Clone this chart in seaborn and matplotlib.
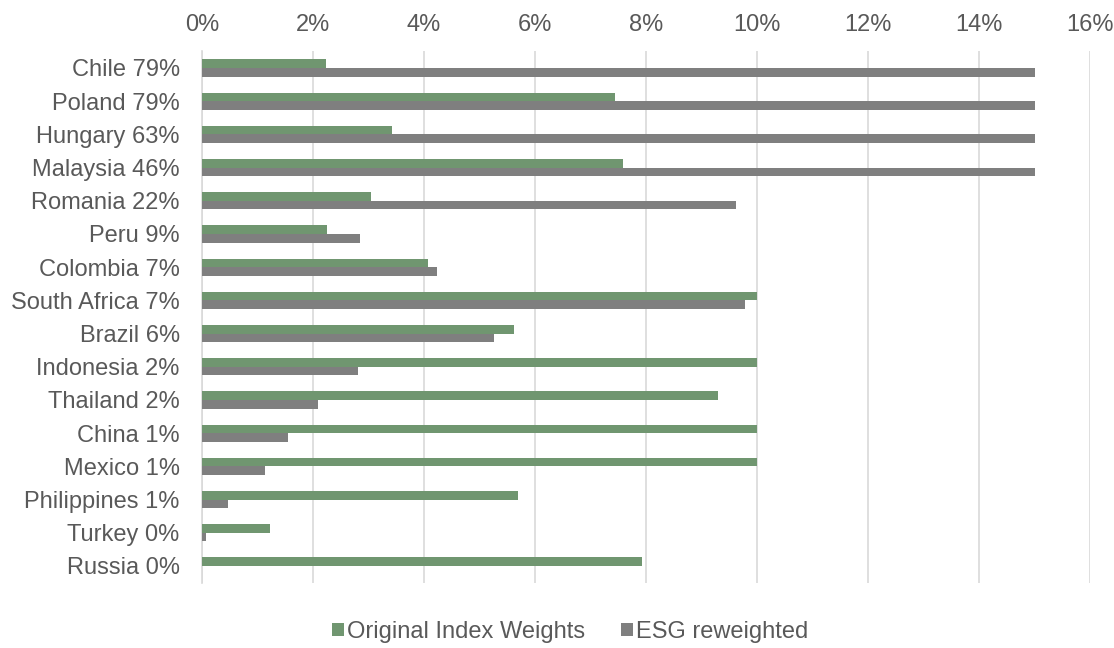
import matplotlib
matplotlib.use("Agg")
import matplotlib.pyplot as plt
import seaborn as sns
import pandas as pd
from matplotlib.ticker import PercentFormatter

# country labels (with share of ESG score) and weights in %
countries = ["Chile 79%", "Poland 79%", "Hungary 63%", "Malaysia 46%", "Romania 22%",
             "Peru 9%", "Colombia 7%", "South Africa 7%", "Brazil 6%", "Indonesia 2%",
             "Thailand 2%", "China 1%", "Mexico 1%", "Philippines 1%", "Turkey 0%", "Russia 0%"]
original = [2.23, 7.45, 3.43, 7.59, 3.04, 2.26, 4.07, 10.0, 5.63, 10.0,
            9.30, 10.0, 10.0, 5.70, 1.23, 7.92]
esg = [15.0, 15.0, 15.0, 15.0, 9.62, 2.84, 4.23, 9.78, 5.27, 2.81,
       2.09, 1.55, 1.14, 0.47, 0.07, 0.0]
series = ["Original Index Weights", "ESG reweighted"]

df = pd.DataFrame({
    "country": countries * 2,
    "weight": original + esg,
    "series": [series[0]] * len(countries) + [series[1]] * len(countries),
})

sns.set_style("white")
plt.rcParams["font.family"] = ["Liberation Sans", "DejaVu Sans"]
txt = "#595959"
fs = 17

fig = plt.figure(figsize=(11.14, 6.48), dpi=100)
ax = fig.add_axes([0.1813, 0.101, 0.7972, 0.8197])

sns.barplot(data=df, y="country", x="weight", hue="series", orient="h",
            palette=["#709670", "#7f7f7f"], saturation=1, width=0.52,
            linewidth=0, ax=ax, zorder=3)

ax.set_xlim(0, 16)
ax.set_xticks(range(0, 17, 2))
ax.xaxis.set_major_formatter(PercentFormatter(decimals=0))
ax.xaxis.tick_top()
ax.grid(axis="x", color="#d9d9d9", lw=1.2, zorder=0)
ax.set_axisbelow(True)
ax.tick_params(axis="both", length=0, labelsize=fs, colors=txt)
ax.tick_params(axis="x", pad=11)
ax.tick_params(axis="y", pad=16)
ax.set_xlabel("")
ax.set_ylabel("")
for s in ["top", "right", "bottom"]:
    ax.spines[s].set_visible(False)
ax.spines["left"].set_color("#d9d9d9")
ax.spines["left"].set_linewidth(1.2)

handles, labels = ax.get_legend_handles_labels()
ax.legend_.remove()
fig.legend(handles, labels, loc="center", bbox_to_anchor=(0.512, 0.025), ncol=2,
           frameon=False, fontsize=fs, labelcolor=txt, handlelength=0.5,
           handleheight=0.5, handletextpad=0.15, columnspacing=1.5)

fig.savefig("out.png", dpi=100)
